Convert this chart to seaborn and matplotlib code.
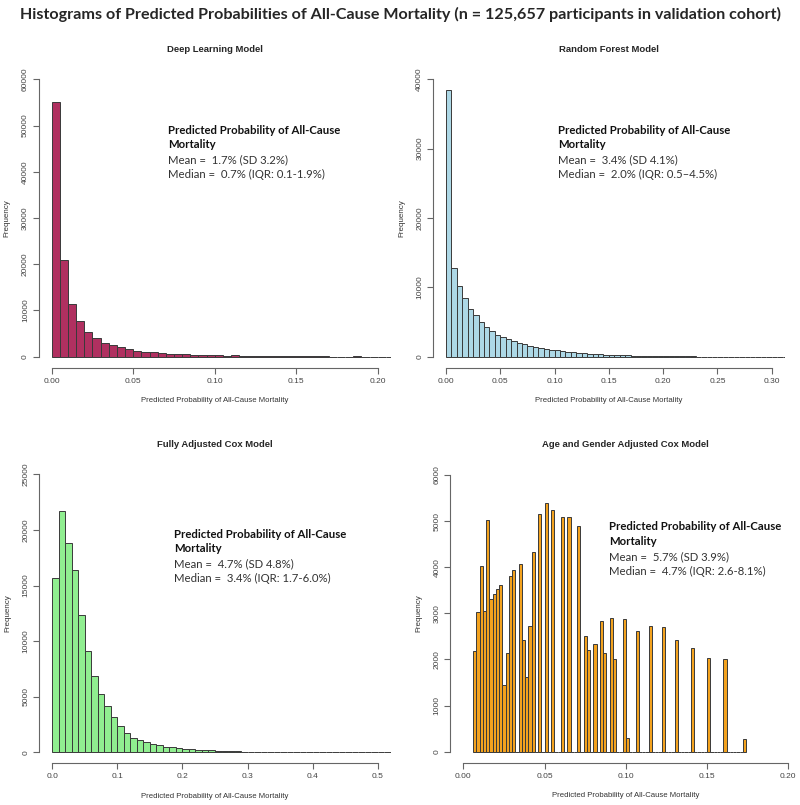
import numpy as np
import pandas as pd
import matplotlib
matplotlib.use("Agg")
import matplotlib.pyplot as plt
import seaborn as sns

# histogram counts (R hist output)
dl_width = 0.005
dl_counts = [55000, 21000, 11500, 7700, 5300, 4000, 3000, 2600, 2000, 1700,
             1300, 1100, 950, 850, 650, 580, 580, 430, 430, 300,
             300, 220, 280, 200, 180, 150, 130, 110, 100, 90,
             80, 70, 60, 50, 40, 40, 30, 150, 20, 15, 10, 10]

rf_width = 0.005
rf_counts = [38500, 12800, 10200, 8400, 6950, 6000, 5050, 4250, 3650, 3150,
             2850, 2500, 2250, 2000, 1800, 1600, 1450, 1300, 1150, 1000,
             900, 800, 700, 620, 550, 500, 450, 400, 350, 300,
             270, 240, 210, 190, 170, 150, 130, 110, 100, 90,
             80, 70, 60, 50, 40, 30, 20] + [0] * 16

cox_width = 0.01
cox_counts = [15700, 21700, 18800, 16400, 12350, 9100, 6850, 5250, 4150, 3150,
              2330, 1700, 1300, 1100, 900, 780, 650, 500, 440, 360,
              300, 270, 240, 200, 170, 120, 150, 90, 80, 60,
              50, 40, 35, 30, 25, 20, 20, 15, 50, 5,
              3] + [0] * 11

ag_width = 0.002
ag_start = 0.006
ag_counts = [2190, 3040, 4030, 3060, 5020, 3320, 3420, 3520, 3620, 1450,
             2150, 3800, 3950, 0, 4060, 2420, 1620, 2720, 4320, 0,
             5150, 0, 5390, 0, 5240, 0, 0, 5080, 0, 5080,
             0, 0, 4890, 0, 2510, 2210, 0, 2330, 0, 2840,
             2150, 0, 2910, 2010, 0, 0, 2880, 300, 0, 0,
             2610, 0, 0, 0, 2720, 0, 0, 0, 2700, 0,
             0, 0, 2420, 0, 0, 0, 0, 2240, 0, 0,
             0, 0, 2030, 0, 0, 0, 0, 2000, 0, 0,
             0, 0, 0, 270]

titles = ["Deep Learning Model", "Random Forest Model",
          "Fully Adjusted Cox Model", "Age and Gender Adjusted Cox Model"]
stats = [("Mean =  1.7% (SD 3.2%)", "Median =  0.7% (IQR: 0.1-1.9%)"),
         ("Mean =  3.4% (SD 4.1%)", "Median =  2.0% (IQR: 0.5\u20134.5%)"),
         ("Mean =  4.7% (SD 4.8%)", "Median =  3.4% (IQR: 1.7-6.0%)"),
         ("Mean =  5.7% (SD 3.9%)", "Median =  4.7% (IQR: 2.6-8.1%)")]
colors = ["#B03060", "#ADD8E6", "#90EE90", "#F3A21E"]

xticks = [np.arange(0, 0.201, 0.05), np.arange(0, 0.301, 0.05),
          np.arange(0, 0.501, 0.1), np.arange(0, 0.201, 0.05)]
xfmt = ["{:.2f}", "{:.2f}", "{:.1f}", "{:.2f}"]
yticks = [np.arange(0, 60001, 10000), np.arange(0, 40001, 10000),
          np.arange(0, 25001, 5000), np.arange(0, 6001, 1000)]

sns.set_style("white")
plt.rcParams["font.family"] = ["Liberation Sans", "DejaVu Sans"]

W, H = 800, 805
fig = plt.figure(figsize=(W / 100, H / 100), dpi=100)


def box(l, r, t, b):
    return [l / W, 1 - b / H, (r - l) / W, (b - t) / H]


# plot regions in pixels (left, right, top, bottom) and axis limits
boxes = [box(38.7, 390.7, 68.2, 367.8), box(433.0, 784.7, 68.2, 367.8),
         box(39.3, 390.7, 463.2, 763.4), box(450.3, 801.3, 463.9, 762.8)]
xlims = [(-0.008, 0.208), (-0.012, 0.312), (-0.02, 0.52), (-0.008, 0.208)]
ylims = [(-2400, 62400), (-1600, 41600), (-1000, 26000), (-240, 6240)]
title_y = [49, 49, 444, 444]
note_xy = [(168, 130), (558, 130), (174, 534), (609, 527)]

data = [(0.0, dl_width, dl_counts), (0.0, rf_width, rf_counts),
        (0.0, cox_width, cox_counts), (ag_start, ag_width, ag_counts)]

for i, (start, width, counts) in enumerate(data):
    ax = fig.add_axes(boxes[i])
    edges = start + width * np.arange(len(counts) + 1)
    df = pd.DataFrame({"p": (edges[:-1] + edges[1:]) / 2, "n": counts})
    sns.histplot(data=df, x="p", weights="n", bins=edges.tolist(), ax=ax,
                 color=colors[i], edgecolor="#3a3a3a", linewidth=0.7, alpha=1)
    ax.set_xlim(*xlims[i])
    ax.set_ylim(*ylims[i])
    ax.set_xticks(xticks[i])
    ax.set_xticklabels([xfmt[i].format(v) for v in xticks[i]])
    ax.set_yticks(yticks[i])
    ax.set_yticklabels([str(int(v)) for v in yticks[i]], rotation=90, va="center")
    for s in ["top", "right"]:
        ax.spines[s].set_visible(False)
    ax.spines["left"].set_bounds(yticks[i][0], yticks[i][-1])
    ax.spines["bottom"].set_bounds(xticks[i][0], xticks[i][-1])
    for s in ["left", "bottom"]:
        ax.spines[s].set_color("#666666")
        ax.spines[s].set_linewidth(0.8)
    ax.tick_params(axis="both", direction="out", length=4, width=0.8,
                   color="#666666", labelsize=6, labelcolor="#444444",
                   left=True, bottom=True, pad=3)
    ax.set_xlabel("Predicted Probability of All-Cause Mortality",
                  fontsize=5.6, color="#333333", labelpad=9)
    ax.set_ylabel("Frequency", fontsize=5.8, color="#333333", labelpad=8)
    ax.set_facecolor("none")

    l, b, w, h = boxes[i]
    fig.text(l + w / 2, 1 - title_y[i] / H, titles[i], ha="center", va="center",
             fontsize=6.8, fontweight="bold")

    nx, ny = note_xy[i]
    lines = ["Predicted Probability of All-Cause", "Mortality"] + list(stats[i])
    for j, line in enumerate(lines):
        fig.text(nx / W, 1 - (ny + j * 14.7) / H, line, ha="left", va="center",
                 fontsize=8.2, family=["Lato", "DejaVu Sans"],
                 fontweight="bold" if j < 2 else "normal",
                 color="#111111" if j < 2 else "#333333")

fig.text(0.5, 1 - 14 / H,
         "Histograms of Predicted Probabilities of All-Cause Mortality "
         "(n = 125,657 participants in validation cohort)",
         ha="center", va="center", fontsize=11.6, fontweight="bold",
         family=["Lato", "DejaVu Sans"])

fig.savefig("out.png", dpi=100, facecolor="white")
